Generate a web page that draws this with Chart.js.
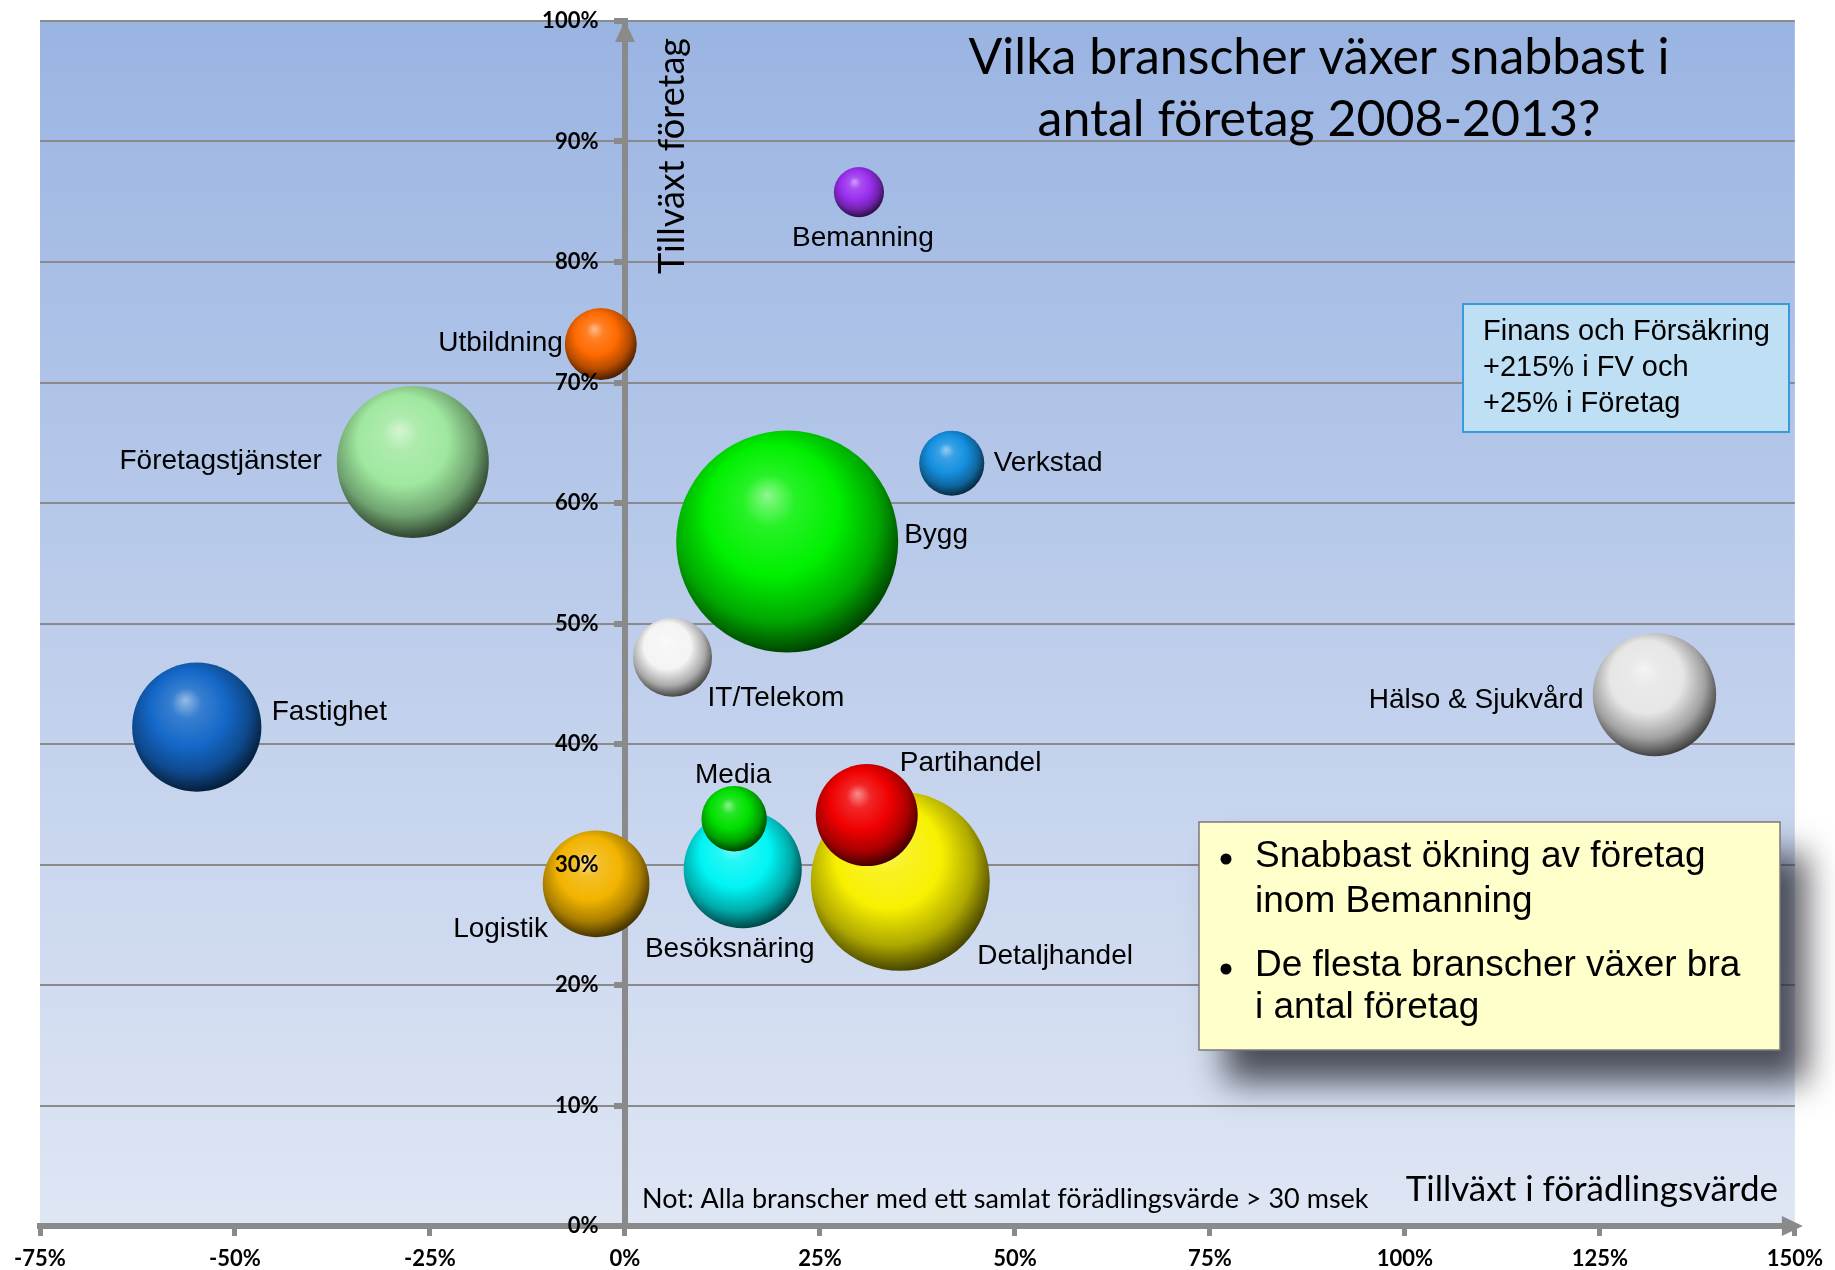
<!DOCTYPE html>
<html>
<head>
<meta charset="utf-8">
<script src="https://cdn.jsdelivr.net/npm/chart.js@4.4.1/dist/chart.umd.min.js"></script>
<style>
  html, body { margin: 0; padding: 0; background: #fff; }
  canvas { display: block; }
</style>
</head>
<body>
<canvas id="myChart" width="1835" height="1270"></canvas>
<script>
// branscher, tillväxt i förädlingsvärde (x, %) och tillväxt i antal företag (y, %)
const categories = ['Bemanning', 'Utbildning', 'Företagstjänster', 'Verkstad', 'Bygg', 'IT/Telekom',
    'Fastighet', 'Hälso & Sjukvård', 'Besöksnäring', 'Media', 'Detaljhandel', 'Partihandel', 'Logistik'];
const growthValue = [30.0, -3.1, -27.2, 41.9, 20.8, 6.1, -54.9, 132.0, 15.1, 14.0, 35.3, 31.0, -3.7];
const growthFirms = [85.8, 73.2, 63.4, 63.3, 56.8, 47.2, 41.4, 44.1, 29.6, 33.8, 28.6, 34.1, 28.4];
// relativ storlek (Bygg = 100), bubblans yta
const bubbleSize = [5.1, 10.5, 46.9, 8.6, 100, 12.7, 33.9, 30.9, 28.3, 8.7, 65.0, 21.1, 23.1];

const xRange = [-75, 150, 25];
const yRange = [0, 100, 10];

const baseColors = ['#9b30f0', '#ff6a00', '#9fe89f', '#1590e0', '#00f000', '#f4f4f4',
    '#1468c8', '#e6e6e6', '#00f4f4', '#00e000', '#f8f000', '#f00000', '#f2b400'];
// [textAlign, dx, dy] relative to the bubble centre
const labelPlace = [
    ['center', 4, 46], ['right', -38, -1], ['right', -91, -1], ['left', 42, 0],
    ['left', 117, -6], ['left', 35, 41], ['left', 75, -15], ['right', -71, 6],
    ['center', -13, 80], ['center', -1, -43], ['left', 77, 75], ['left', 33, -52], ['right', -48, 46]
];

const MAX_R = 111;
const GRID = '#8a8a8a';

function shade(hex, t) {
    const n = parseInt(hex.slice(1), 16);
    let rgb = [(n >> 16) & 255, (n >> 8) & 255, n & 255];
    rgb = rgb.map(c => t >= 0 ? Math.round(c + (255 - c) * t) : Math.round(c * (1 + t)));
    return 'rgb(' + rgb.join(',') + ')';
}

function sphereFill(c) {
    const base = baseColors[c.dataIndex] || '#888888';
    if (!c.raw || !c.chart.scales.x) return base;
    const cx = c.chart.scales.x.getPixelForValue(c.raw.x);
    const cy = c.chart.scales.y.getPixelForValue(c.raw.y);
    const r = c.raw.r;
    if (!isFinite(cx) || !isFinite(cy) || !isFinite(r)) return base;
    const g = c.chart.ctx.createRadialGradient(cx - 0.18 * r, cy - 0.42 * r, 0, cx - 0.08 * r, cy - 0.15 * r, r * 1.18);
    g.addColorStop(0, shade(base, 0.55));
    g.addColorStop(0.2, shade(base, 0.15));
    g.addColorStop(0.5, base);
    g.addColorStop(0.78, shade(base, -0.3));
    g.addColorStop(1, shade(base, -0.75));
    return g;
}

const points = categories.map((name, i) => ({
    x: growthValue[i],
    y: growthFirms[i],
    r: MAX_R * Math.sqrt(bubbleSize[i] / 100)
}));

const plotBackground = {
    id: 'plotBackground',
    beforeDraw(chart) {
        const {ctx, chartArea: a} = chart;
        const g = ctx.createLinearGradient(0, a.top, 0, a.bottom);
        g.addColorStop(0, '#9ab4e2');
        g.addColorStop(1, '#dfe6f4');
        ctx.save();
        ctx.fillStyle = g;
        ctx.fillRect(a.left, a.top, a.right - a.left, a.bottom - a.top);
        ctx.restore();
    }
};

const axisArrows = {
    id: 'axisArrows',
    beforeDatasetsDraw(chart) {
        const {ctx, chartArea: a, scales} = chart;
        const x0 = scales.x.getPixelForValue(0);
        ctx.save();
        ctx.fillStyle = GRID;
        ctx.beginPath();
        ctx.moveTo(x0, a.top);
        ctx.lineTo(x0 - 10, a.top + 21);
        ctx.lineTo(x0 + 10, a.top + 21);
        ctx.closePath();
        ctx.fill();
        ctx.beginPath();
        ctx.moveTo(a.right + 8, a.bottom);
        ctx.lineTo(a.right - 13, a.bottom - 10);
        ctx.lineTo(a.right - 13, a.bottom + 10);
        ctx.closePath();
        ctx.fill();
        ctx.restore();
    }
};

const bubbleLabels = {
    id: 'bubbleLabels',
    afterDatasetsDraw(chart) {
        const ctx = chart.ctx;
        const meta = chart.getDatasetMeta(0);
        ctx.save();
        ctx.font = '28px "Liberation Sans", Arial, sans-serif';
        ctx.fillStyle = '#000';
        ctx.textBaseline = 'middle';
        meta.data.forEach((el, i) => {
            const [align, dx, dy] = labelPlace[i];
            ctx.textAlign = align;
            ctx.fillText(categories[i], el.x + dx, el.y + dy);
        });
        ctx.restore();
    }
};

const annotations = {
    id: 'annotations',
    afterDraw(chart) {
        const ctx = chart.ctx;
        ctx.save();
        ctx.fillStyle = '#000';
        ctx.textBaseline = 'middle';

        // title
        ctx.font = '50px Lato, "Open Sans", sans-serif';
        ctx.textAlign = 'center';
        ctx.fillText('Vilka branscher växer snabbast i', 1319, 58);
        ctx.fillText('antal företag 2008-2013?', 1319, 120);

        // axis titles inside plot
        ctx.font = '35px Lato, "Open Sans", sans-serif';
        ctx.textAlign = 'right';
        ctx.fillText('Tillväxt i förädlingsvärde', 1778, 1190);
        ctx.save();
        ctx.font = '36px Lato, "Open Sans", sans-serif';
        ctx.translate(672, 156);
        ctx.rotate(-Math.PI / 2);
        ctx.textAlign = 'center';
        ctx.fillText('Tillväxt företag', 0, 0);
        ctx.restore();

        ctx.font = '27px Lato, "Open Sans", sans-serif';
        ctx.textAlign = 'left';
        ctx.fillText('Not: Alla branscher med ett samlat förädlingsvärde > 30 msek', 642, 1199);

        // Finans box
        ctx.fillStyle = '#bfe0f4';
        ctx.fillRect(1463, 304, 326, 128);
        ctx.strokeStyle = '#3a9ad9';
        ctx.lineWidth = 2;
        ctx.strokeRect(1463, 304, 326, 128);
        ctx.fillStyle = '#000';
        ctx.font = '29px "Liberation Sans", Arial, sans-serif';
        ctx.fillText('Finans och Försäkring', 1483, 332);
        ctx.fillText('+215% i FV och', 1483, 368);
        ctx.fillText('+25% i Företag', 1483, 404);

        // yellow note with shadow
        ctx.save();
        ctx.shadowColor = 'rgba(40,40,50,0.8)';
        ctx.shadowBlur = 32;
        ctx.shadowOffsetX = 26;
        ctx.shadowOffsetY = 32;
        ctx.fillStyle = '#ffffcc';
        ctx.fillRect(1199, 822, 581, 228);
        ctx.restore();
        ctx.strokeStyle = '#7a7a7a';
        ctx.lineWidth = 1.5;
        ctx.strokeRect(1199, 822, 581, 228);

        ctx.fillStyle = '#000';
        ctx.font = '37px "Liberation Sans", Arial, sans-serif';
        ctx.fillText('Snabbast ökning av företag', 1255, 857);
        ctx.fillText('inom Bemanning', 1255, 902);
        ctx.fillText('De flesta branscher växer bra', 1255, 966);
        ctx.fillText('i antal företag', 1255, 1008);
        [859, 969].forEach(y => {
            ctx.beginPath();
            ctx.arc(1226, y, 5.5, 0, Math.PI * 2);
            ctx.fill();
        });
        ctx.restore();
    }
};

const tickFont = {family: 'Lato, "Open Sans", sans-serif', size: 22, weight: 'bold', lineHeight: 1};
const pct = v => v + '%';

const config = {
    type: 'bubble',
    data: {
        datasets: [{
            label: 'Branscher',
            data: points,
            backgroundColor: sphereFill,
            borderWidth: 0,
            hoverBorderWidth: 0
        }]
    },
    options: {
        responsive: false,
        animation: false,
        layout: {
            autoPadding: false,
            padding: {left: 40, right: 36, top: 21, bottom: -12}
        },
        scales: {
            x: {
                type: 'linear',
                position: 'bottom',
                min: xRange[0],
                max: xRange[1],
                ticks: {
                    stepSize: xRange[2],
                    color: '#000',
                    font: tickFont,
                    padding: 12,
                    maxRotation: 0,
                    callback: pct
                },
                grid: {
                    drawOnChartArea: false,
                    color: GRID,
                    tickLength: 10,
                    tickWidth: 5
                },
                border: {color: GRID, width: 6}
            },
            y: {
                type: 'linear',
                position: {x: 0},
                min: yRange[0],
                max: yRange[1],
                ticks: {
                    stepSize: yRange[2],
                    display: false
                },
                grid: {
                    color: GRID,
                    lineWidth: 2,
                    tickLength: 8,
                    tickWidth: 6,
                    tickColor: GRID
                },
                border: {color: GRID, width: 6}
            },
            // tick labels for the y axis, set a little left of the axis line
            yLabels: {
                axis: 'y',
                type: 'linear',
                position: {x: -3.4},
                min: yRange[0],
                max: yRange[1],
                ticks: {
                    stepSize: yRange[2],
                    color: '#000',
                    font: tickFont,
                    z: 1,
                    callback: pct
                },
                grid: {display: false},
                border: {display: false}
            }
        },
        plugins: {
            legend: {display: false},
            tooltip: {enabled: false},
            title: {display: false}
        }
    },
    plugins: [plotBackground, axisArrows, bubbleLabels, annotations]
};

var myChart = new Chart(
    document.getElementById('myChart'),
    config
);
</script>
</body>
</html>
